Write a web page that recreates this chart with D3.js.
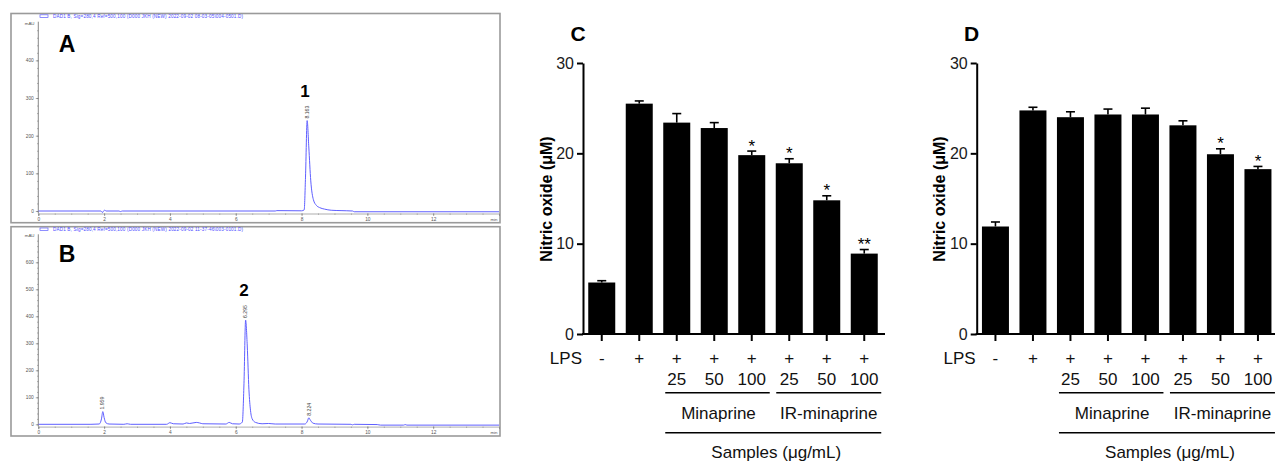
<!DOCTYPE html>
<html><head><meta charset="utf-8">
<script src="https://cdn.jsdelivr.net/npm/d3@7"></script>
<style>body{margin:0;background:#fff} svg{display:block} text{font-family:Arial,"Liberation Sans",sans-serif}</style>
</head><body><svg id="c" width="1275" height="462"></svg>
<script>
// ---------- DATA ----------
// Chromatogram A: [time (min), absorbance (mAU)]
const traceA = [[0,0],[1.9,0],[1.95,-4],[1.98,0],[2.02,2],[2.06,0],[2.45,0],[2.5,-1.5],[2.55,0],[7.2,0],[7.25,1],[8.0,0.5],[8.08,3],[8.12,90],[8.17,240],[8.22,170],[8.28,80],[8.36,30],[8.45,15],[8.55,9],[8.7,5],[8.9,2],[9.2,1],[9.55,0],[9.6,-2],[14,-2]];
const peaksA = [{t:8.163, h:240, label:"8.163"}];
// Chromatogram B
const traceB = [[0,0],[1.6,0],[1.85,1],[1.92,20],[1.96,47],[2.0,25],[2.05,6],[2.15,1],[2.6,0],[2.7,2],[2.8,0],[3.9,0],[4.0,6],[4.1,2],[4.4,1],[4.5,5],[4.6,3],[4.8,7],[4.9,5],[5.0,2],[5.7,1],[5.8,7],[5.9,2],[6.1,1],[6.2,8],[6.25,150],[6.3,386],[6.35,290],[6.4,130],[6.45,50],[6.5,20],[6.6,7],[6.8,2],[7.0,3],[7.2,1],[8.1,1],[8.18,12],[8.22,24],[8.27,15],[8.35,4],[8.5,1],[9.5,0],[9.55,-2],[9.6,0],[10.3,-1],[10.4,-3],[11.1,-3],[11.15,-1],[11.2,-3],[14,-3]];
const peaksB = [{t:1.959, h:47, label:"1.959"},{t:6.295, h:386, label:"6.295"},{t:8.224, h:24, label:"8.224"}];
const headerA = "DAD1 B, Sig=280,4 Ref=500,100 (D000 JKH (NEW) 2022-09-02 08-03-05\\004-0501.D)";
const headerB = "DAD1 B, Sig=280,4 Ref=500,100 (D000 JKH (NEW) 2022-09-02 11-37-46\\003-0101.D)";
const chromXTicks = [0,2,4,6,8,10,12];
const chromYTicksA = [0,100,200,300,400];
const chromYTicksB = [0,100,200,300,400,500,600];

// Bar charts C and D (Nitric oxide, µM)
const lpsLabels = ["-","+","+","+","+","+","+","+"];
const doseLabels = ["","","25","50","100","25","50","100"];
const valuesC = [5.7,25.5,23.4,22.8,19.8,18.9,14.8,8.9];
const errorsC = [0.2,0.3,1.0,0.6,0.45,0.5,0.5,0.45];
const sigC = ["","","","","*","*","*","**"];
const valuesD = [11.9,24.75,24.0,24.3,24.3,23.1,19.9,18.25];
const errorsD = [0.5,0.35,0.6,0.6,0.7,0.5,0.6,0.3];
const sigD = ["","","","","","","*","*"];
const barYTicks = [0,10,20,30];

// ---------- DRAW ----------
const svg = d3.select("#c");
svg.append("rect").attr("width",1275).attr("height",462).attr("fill","#fff");
const blue = "#5f5fff";

function chrom(cfg){
  const g = svg.append("g");
  const x = d3.scaleLinear().domain([0,14]).range([38.3,499]);
  const y = d3.scaleLinear().domain([0,cfg.yMax]).range([cfg.y0, cfg.yTop]);
  const clipId = "clip"+cfg.letter;
  svg.append("clipPath").attr("id",clipId).append("rect")
    .attr("x",38.3).attr("y",cfg.boxTop+4).attr("width",461).attr("height",cfg.axisY-cfg.boxTop-4);
  g.append("rect").attr("x",11).attr("y",cfg.boxTop).attr("width",489).attr("height",cfg.boxBottom-cfg.boxTop)
    .attr("fill","none").attr("stroke","#9a9a9a").attr("stroke-width",1.6);
  // header
  g.append("rect").attr("x",40).attr("y",cfg.boxTop+1.3).attr("width",8).attr("height",2.6)
    .attr("fill","none").attr("stroke",blue).attr("stroke-width",0.7);
  g.append("text").attr("x",53).attr("y",cfg.boxTop+4.3).attr("font-size",4.6).attr("fill","#4b4bff")
    .attr("textLength",190).text(cfg.header);
  // y axis
  const ya = g.append("g").attr("transform","translate(38.3,0)");
  ya.call(d3.axisLeft(y).tickValues(cfg.yTicks).tickSize(2.5).tickPadding(2).tickFormat(d3.format("d")));
  ya.select(".domain").remove();
  ya.selectAll("text").attr("font-size",4.8).attr("fill","#555");
  ya.selectAll("line").attr("stroke","#666").attr("stroke-width",0.6);
  const ym = g.append("g").attr("transform","translate(38.3,0)");
  ym.call(d3.axisLeft(y).tickValues(d3.range(0,cfg.yMax,20)).tickSize(1.3).tickFormat(""));
  ym.select(".domain").remove();
  ym.selectAll("line").attr("stroke","#777").attr("stroke-width",0.5);
  g.append("line").attr("x1",38.3).attr("x2",38.3).attr("y1",cfg.yTop-1).attr("y2",cfg.axisY)
    .attr("stroke","#555").attr("stroke-width",0.7);
  g.append("text").attr("x",34.5).attr("y",cfg.yTop+2).attr("text-anchor","end").attr("font-size",4.4).attr("fill","#555").text("mAU");
  // x axis
  const xa = g.append("g").attr("transform",`translate(0,${cfg.axisY})`);
  xa.call(d3.axisBottom(x).tickValues(chromXTicks).tickSize(2.5).tickPadding(1.5));
  xa.select(".domain").attr("stroke","#777").attr("stroke-width",0.6);
  xa.selectAll("text").attr("font-size",4.8).attr("fill","#555");
  xa.selectAll("line").attr("stroke","#666").attr("stroke-width",0.6);
  const xm = g.append("g").attr("transform",`translate(0,${cfg.axisY})`);
  xm.call(d3.axisBottom(x).tickValues(d3.range(0,14,0.5)).tickSize(1.3).tickFormat(""));
  xm.select(".domain").remove();
  xm.selectAll("line").attr("stroke","#777").attr("stroke-width",0.5);
  g.append("text").attr("x",494).attr("y",cfg.axisY+7.5).attr("text-anchor","middle").attr("font-size",4.4).attr("fill","#555").text("min");
  // trace
  const line = d3.line().x(d=>x(d[0])).y(d=>y(d[1])).curve(d3.curveMonotoneX);
  g.append("path").datum(cfg.trace).attr("d",line).attr("fill","none").attr("stroke",blue)
    .attr("stroke-width",1).attr("clip-path",`url(#${clipId})`);
  // peak labels
  cfg.peaks.forEach(p=>{
    const px = x(p.t)+1.6, py = y(p.h)-2;
    g.append("text").attr("transform",`translate(${px},${py}) rotate(-90)`).attr("font-size",5.2).attr("fill","#444").text(p.label);
  });
  // panel letter and peak number
  g.append("text").attr("x",67).attr("y",cfg.letterY).attr("text-anchor","middle").attr("font-weight","bold").attr("font-size",23).attr("fill","#000").text(cfg.letter);
  g.append("text").attr("x",cfg.numX).attr("y",cfg.numY).attr("text-anchor","middle").attr("font-weight","bold").attr("font-size",17).attr("fill","#000").text(cfg.num);
}

chrom({letter:"A", header:headerA, boxTop:13.5, boxBottom:222.7, y0:211, yTop:22.7, yMax:500, axisY:213.5,
  yTicks:chromYTicksA, trace:traceA, peaks:peaksA, letterY:52, num:"1", numX:305, numY:97.3});
chrom({letter:"B", header:headerB, boxTop:226.7, boxBottom:436, y0:424.3, yTop:235.3, yMax:700, axisY:426.6,
  yTicks:chromYTicksB, trace:traceB, peaks:peaksB, letterY:262, num:"2", numX:244, numY:296});

function bars(cfg){
  const g = svg.append("g");
  const n = cfg.values.length;
  const x = d3.scaleBand().domain(d3.range(n)).range([cfg.ax, cfg.ax+300]).paddingInner(0.28).paddingOuter(0.14);
  const y = d3.scaleLinear().domain([0,30]).range([334,63]);
  const cx = i => x(i)+x.bandwidth()/2;
  const bw = x.bandwidth();
  g.selectAll("rect.bar").data(cfg.values).join("rect").attr("class","bar")
    .attr("x",(d,i)=>x(i)).attr("y",d=>y(d)).attr("width",bw).attr("height",d=>334-y(d)).attr("fill","#000");
  cfg.values.forEach((v,i)=>{
    const top = y(v+cfg.errors[i]);
    g.append("line").attr("x1",cx(i)).attr("x2",cx(i)).attr("y1",y(v)).attr("y2",top).attr("stroke","#000").attr("stroke-width",1.6);
    g.append("line").attr("x1",cx(i)-4.5).attr("x2",cx(i)+4.5).attr("y1",top).attr("y2",top).attr("stroke","#000").attr("stroke-width",1.6);
    if(cfg.sig[i]) g.append("text").attr("x",cx(i)).attr("y",top+0.5).attr("text-anchor","middle").attr("font-size",17).attr("fill","#000").text(cfg.sig[i]);
  });
  // y axis
  const ya = g.append("g").attr("transform",`translate(${cfg.ax},0)`);
  ya.call(d3.axisLeft(y).tickValues(barYTicks).tickSize(6).tickSizeOuter(0).tickPadding(3));
  ya.select(".domain").attr("stroke-width",2);
  ya.selectAll("line").attr("stroke-width",2);
  ya.selectAll("text").attr("font-size",16).attr("fill","#1a1a1a").attr("font-family","Arial, 'Liberation Sans', sans-serif");
  // x axis
  g.append("line").attr("x1",cfg.ax-1).attr("x2",cfg.ax+302).attr("y1",334).attr("y2",334).attr("stroke","#000").attr("stroke-width",2);
  d3.range(n).forEach(i=>{
    g.append("line").attr("x1",cx(i)).attr("x2",cx(i)).attr("y1",334).attr("y2",341).attr("stroke","#000").attr("stroke-width",2);
    g.append("text").attr("x",cx(i)).attr("y",363.5).attr("text-anchor","middle").attr("font-size",17).attr("fill","#111").text(lpsLabels[i]);
    if(doseLabels[i]) g.append("text").attr("x",cx(i)).attr("y",385).attr("text-anchor","middle").attr("font-size",17).attr("fill","#111").text(doseLabels[i]);
  });
  g.append("text").attr("x",cfg.ax-1).attr("y",363.5).attr("text-anchor","end").attr("font-size",17).attr("fill","#111").text("LPS");
  const m1 = cx(2)-11.5, m2 = cx(4)+18, r1 = cx(5)-13, r2 = cx(7)+17;
  [[m1,m2,392.7],[r1,r2,392.7],[m1,r2,432.7]].forEach(([a,b,yy])=>{
    g.append("line").attr("x1",a).attr("x2",b).attr("y1",yy).attr("y2",yy).attr("stroke","#000").attr("stroke-width",1.5);
  });
  g.append("text").attr("x",(m1+m2)/2+1).attr("y",418.5).attr("text-anchor","middle").attr("font-size",17).attr("fill","#111").text("Minaprine");
  g.append("text").attr("x",(r1+r2)/2).attr("y",418.5).attr("text-anchor","middle").attr("font-size",17).attr("fill","#111").text("IR-minaprine");
  g.append("text").attr("x",(m1+r2)/2+3).attr("y",458).attr("text-anchor","middle").attr("font-size",17).attr("fill","#111").text("Samples (μg/mL)");
  // y title
  g.append("text").attr("transform",`translate(${cfg.ax-37},199) rotate(-90)`).attr("text-anchor","middle").attr("dominant-baseline","central")
    .attr("font-size",16).attr("font-weight","bold").attr("fill","#000").text("Nitric oxide (μM)");
  // letter
  g.append("text").attr("x",cfg.ax-5).attr("y",40.5).attr("text-anchor","middle").attr("font-size",21).attr("font-weight","bold").attr("fill","#000").text(cfg.letter);
}

bars({letter:"C", ax:583, values:valuesC, errors:errorsC, sig:sigC});
bars({letter:"D", ax:976.7, values:valuesD, errors:errorsD, sig:sigD});
</script></body></html>
